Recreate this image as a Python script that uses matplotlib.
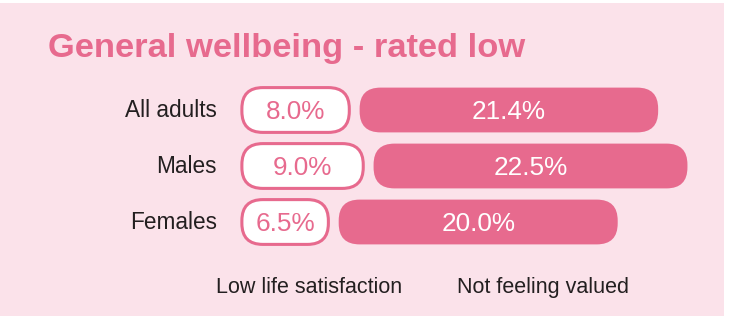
import matplotlib.pyplot as plt
from matplotlib.patches import FancyBboxPatch, Rectangle

plt.rcParams['font.family'] = ['Liberation Sans', 'DejaVu Sans']

groups = ["All adults", "Males", "Females"]
low_life = [8.0, 9.0, 6.5]
not_valued = [21.4, 22.5, 20.0]
series_names = ["Low life satisfaction", "Not feeling valued"]

pink = '#e76a8e'
panel_bg = '#fbe2ea'
dark = '#231f20'

W, H, dpi = 731, 327, 100
px_per_pct = 13.95   # horizontal scale: pixels per percentage point
row_px = 56          # vertical spacing of rows in pixels
origin_px = 237.7    # where 0% sits
first_row_px = 110

fig = plt.figure(figsize=(W / dpi, H / dpi), dpi=dpi)
fig.patch.set_facecolor('white')

# pink panel behind everything
fig.patches.append(Rectangle((0, 11 / H), 724 / W, 313 / H, transform=fig.transFigure,
                             facecolor=panel_bg, edgecolor='none', zorder=-1))

ax = fig.add_axes([0, 0, 1, 1])
ax.set_zorder(1)
ax.set_facecolor('none')
ax.set_xlim(-origin_px / px_per_pct, (W - origin_px) / px_per_pct)
ax.set_ylim((H - first_row_px) / row_px, -first_row_px / row_px)
ax.axis('off')

bar_h = 0.80
box_pad = 0.3
gap = 0.74
radius = 1.5
aspect = px_per_pct / row_px

for i, (g, a, b) in enumerate(zip(groups, low_life, not_valued)):
    # outlined box for low life satisfaction
    box = FancyBboxPatch((box_pad, i - bar_h / 2), a - box_pad, bar_h,
                         boxstyle=f"round,pad=0,rounding_size={radius}",
                         mutation_aspect=aspect, facecolor='white',
                         edgecolor=pink, linewidth=2.2, zorder=2)
    ax.add_patch(box)
    ax.text(box_pad + (a - box_pad) / 2, i + 0.166, f"{a:.1f}%", ha='center',
            va='baseline', fontsize=18.8, color=pink, zorder=3)

    # filled bar for not feeling valued
    start = a + gap
    bar = FancyBboxPatch((start, i - bar_h / 2), b, bar_h,
                         boxstyle=f"round,pad=0,rounding_size={radius}",
                         mutation_aspect=aspect, facecolor=pink,
                         edgecolor='none', zorder=2)
    ax.add_patch(bar)
    ax.text(start + b / 2, i + 0.166, f"{b:.1f}%", ha='center', va='baseline',
            fontsize=18.8, color='white', zorder=3)

    ax.text(-20.7 / px_per_pct, i + 0.125, g, ha='right', va='baseline',
            fontsize=16.3, color=dark)

fig.text(48 / W, (H - 57) / H, "General wellbeing - rated low", fontsize=24.8,
         fontweight='bold', color=pink, ha='left', va='baseline', zorder=2)

fig.text(216 / W, (H - 293) / H, series_names[0], fontsize=15.5, color=dark,
         ha='left', va='baseline', zorder=2)
fig.text(457 / W, (H - 293) / H, series_names[1], fontsize=15.5, color=dark,
         ha='left', va='baseline', zorder=2)

fig.savefig('out.png', dpi=dpi, facecolor=fig.get_facecolor())
